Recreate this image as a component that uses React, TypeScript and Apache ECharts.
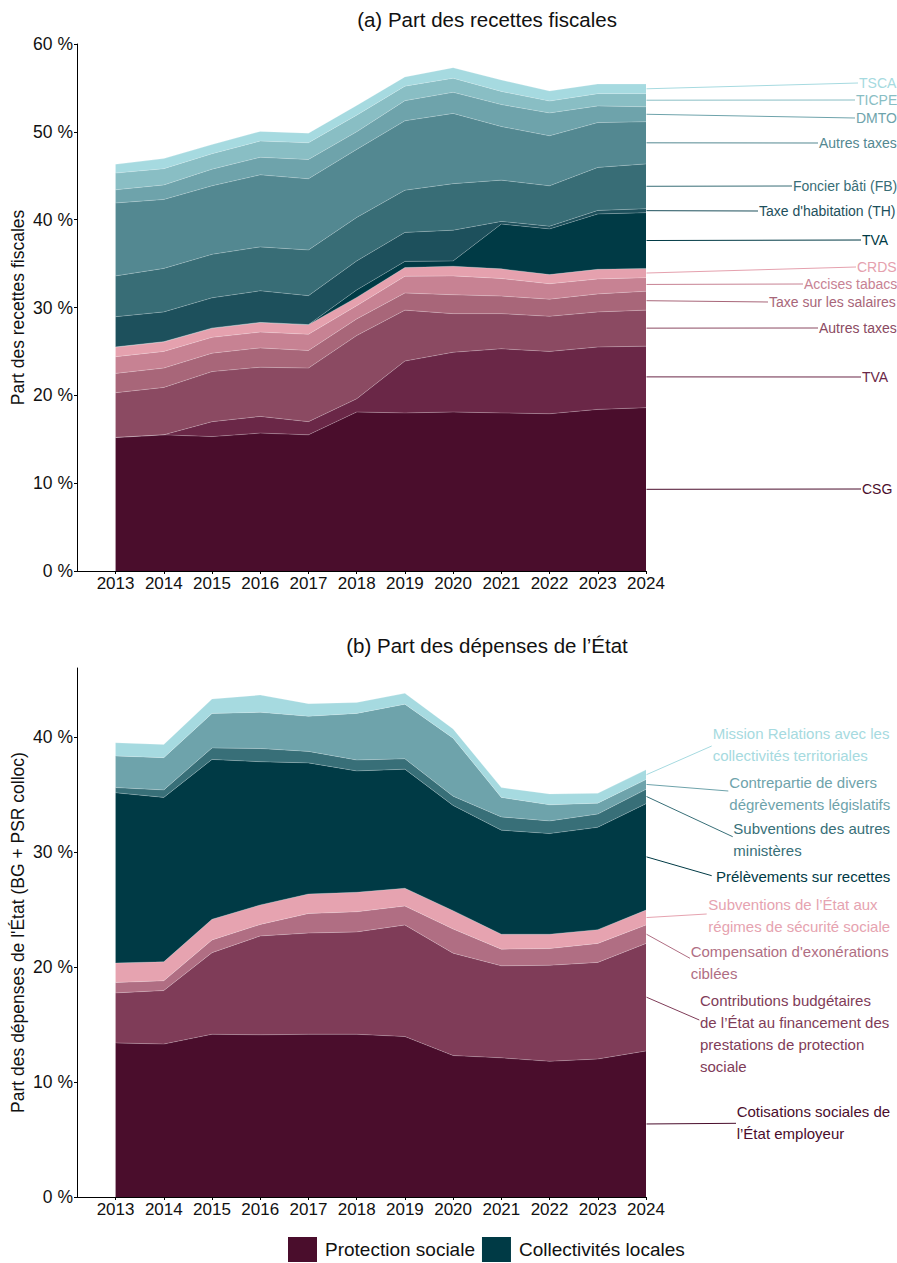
import React, { useEffect, useRef } from "react";
import * as echarts from "echarts";

const FONT = "'Liberation Sans', Arial, Helvetica, sans-serif";

const YEARS = [2013, 2014, 2015, 2016, 2017, 2018, 2019, 2020, 2021, 2022, 2023, 2024];

// ---- (a) Part des recettes fiscales (%), stacked bottom -> top
// Protection sociale
const CSG = [15.2, 15.5, 15.3, 15.7, 15.5, 18.1, 18.0, 18.1, 18.0, 17.9, 18.4, 18.6];
const TVA_PS = [0, 0, 1.7, 1.9, 1.5, 1.5, 5.9, 6.8, 7.3, 7.1, 7.1, 7.0];
const AUTRES_PS = [5.1, 5.4, 5.7, 5.6, 6.1, 7.2, 5.8, 4.4, 4.0, 4.0, 4.0, 4.1];
const TAXE_SALAIRES = [2.2, 2.2, 2.1, 2.2, 2.0, 1.9, 1.95, 2.15, 2.0, 1.95, 2.05, 2.15];
const ACCISES_TABACS = [1.9, 1.9, 1.8, 1.8, 1.85, 1.5, 1.9, 2.15, 2.0, 1.75, 1.7, 1.55];
const CRDS = [1.1, 1.1, 1.05, 1.1, 1.1, 0.95, 1.0, 1.1, 1.1, 1.05, 1.1, 1.05];
// Collectivités locales
const TVA_CL = [0, 0, 0, 0, 0, 0.85, 0.7, 0.6, 5.1, 5.2, 6.3, 6.35];
const TH = [3.45, 3.4, 3.45, 3.6, 3.3, 3.3, 3.3, 3.5, 0.3, 0.3, 0.4, 0.45];
const FB = [4.65, 4.95, 4.95, 5.0, 5.2, 4.95, 4.8, 5.3, 4.7, 4.6, 4.9, 5.1];
const AUTRES_CL = [8.3, 7.85, 7.8, 8.2, 8.1, 7.75, 7.9, 8.0, 6.1, 5.7, 5.1, 4.8];
const DMTO = [1.5, 1.65, 1.9, 2.0, 2.2, 2.0, 2.3, 2.4, 2.5, 2.6, 1.9, 1.7];
const TICPE = [1.9, 1.85, 1.75, 1.85, 1.9, 1.9, 1.65, 1.6, 1.5, 1.35, 1.4, 1.5];
const TSCA = [1.0, 1.15, 1.05, 1.1, 1.1, 1.1, 1.05, 1.2, 1.3, 1.15, 1.1, 1.1];

// ---- (b) Part des dépenses de l'État (%), stacked bottom -> top
const COTISATIONS = [13.4, 13.3, 14.15, 14.1, 14.15, 14.15, 13.95, 12.3, 12.1, 11.8, 12.0, 12.7];
const CONTRIBUTIONS = [4.35, 4.65, 7.1, 8.6, 8.8, 8.9, 9.7, 8.9, 8.0, 8.35, 8.4, 9.35];
const COMPENSATION = [0.9, 0.85, 1.1, 1.0, 1.7, 1.75, 1.65, 2.1, 1.45, 1.45, 1.65, 1.6];
const SUBV_SECU = [1.7, 1.65, 1.8, 1.7, 1.7, 1.7, 1.55, 1.6, 1.3, 1.25, 1.2, 1.3];
const PSR = [14.8, 14.3, 13.9, 12.45, 11.4, 10.55, 10.35, 9.15, 9.05, 8.75, 8.9, 9.25];
const SUBV_MINISTERES = [0.45, 0.65, 1.0, 1.15, 1.0, 0.95, 0.9, 0.8, 1.15, 1.1, 1.15, 1.25];
const CONTREPARTIE = [2.75, 2.8, 3.0, 3.15, 3.05, 4.05, 4.75, 5.05, 1.7, 1.4, 0.95, 0.85];
const MISSION_RCT = [1.15, 1.15, 1.25, 1.5, 1.1, 0.95, 0.95, 0.8, 0.85, 0.95, 0.85, 0.85];

const TOP_TICKS = [0, 10, 20, 30, 40, 50, 60];
const BOTTOM_TICKS = [0, 10, 20, 30, 40];

const LEGEND_NAMES = ["Protection sociale", "Collectivités locales"];
const LEGEND_COLORS = ["#4a0d2c", "#003a45"];

const TOP_SERIES = [
  { name: "CSG", data: CSG, color: "#4a0d2c" },
  { name: "TVA", data: TVA_PS, color: "#6a2747" },
  { name: "Autres taxes", data: AUTRES_PS, color: "#8b4a62" },
  { name: "Taxe sur les salaires", data: TAXE_SALAIRES, color: "#a86679" },
  { name: "Accises tabacs", data: ACCISES_TABACS, color: "#c78293" },
  { name: "CRDS", data: CRDS, color: "#e5a1ae" },
  { name: "TVA", data: TVA_CL, color: "#003a45" },
  { name: "Taxe d'habitation (TH)", data: TH, color: "#1d505c" },
  { name: "Foncier bâti (FB)", data: FB, color: "#386d76" },
  { name: "Autres taxes", data: AUTRES_CL, color: "#538891" },
  { name: "DMTO", data: DMTO, color: "#6ea3ab" },
  { name: "TICPE", data: TICPE, color: "#89bec4" },
  { name: "TSCA", data: TSCA, color: "#a6dae0" },
];

const BOTTOM_SERIES = [
  { name: "Cotisations sociales de\nl’État employeur", data: COTISATIONS, color: "#4a0d2c" },
  {
    name: "Contributions budgétaires\nde l’État au financement des\nprestations de protection\nsociale",
    data: CONTRIBUTIONS,
    color: "#7f3c58",
  },
  { name: "Compensation d'exonérations\nciblées", data: COMPENSATION, color: "#b06e83" },
  { name: "Subventions de l’État aux\nrégimes de sécurité sociale", data: SUBV_SECU, color: "#e6a3b0" },
  { name: "Prélèvements sur recettes", data: PSR, color: "#003a45" },
  { name: "Subventions des autres\nministères", data: SUBV_MINISTERES, color: "#386f78" },
  { name: "Contrepartie de divers\ndégrèvements législatifs", data: CONTREPARTIE, color: "#6ea3ab" },
  { name: "Mission Relations avec les\ncollectivités territoriales", data: MISSION_RCT, color: "#a6dae0" },
];

// Label layout (pixels): text start x, text (first line) centre y, guide line end x/y
const TOP_LABEL_LAYOUT = [
  [862, 489],
  [862, 377],
  [819, 328],
  [769, 302],
  [804, 284],
  [857, 267],
  [862, 240],
  [759, 211],
  [793, 186],
  [819, 143],
  [856, 118],
  [856, 100],
  [859, 83],
];
const BOTTOM_LABEL_LAYOUT = [
  [736.7, 1111.7, 736, 1123.3],
  [700, 1000, 699.3, 1020],
  [690.7, 951.7, 690, 958.3],
  [708.3, 904, 706.7, 914],
  [716, 876.7, 711.7, 875.7],
  [733.3, 828.3, 732.7, 836.7],
  [729.3, 782.3, 728.3, 791],
  [712.7, 733.3, 711.7, 746],
];

function makeSeries(list: any[], stack: string, gridIndex: number) {
  return list.map((s) => ({
    type: "line",
    name: s.name,
    stack,
    xAxisIndex: gridIndex,
    yAxisIndex: gridIndex,
    // value first so that the stacked dimension is the y (value) one
    data: YEARS.map((y, i) => [s.data[i], y]),
    encode: { x: 1, y: 0 },
    symbol: "none",
    showSymbol: false,
    silent: true,
    emphasis: { disabled: true },
    itemStyle: { color: s.color },
    lineStyle: { width: 0.6, color: "rgba(255,255,255,0.35)" },
    areaStyle: { color: s.color, opacity: 1 },
  }));
}

function xAxis(gridIndex: number) {
  return {
    type: "value",
    gridIndex,
    min: 2012.2,
    max: 2024,
    splitLine: { show: false },
    axisLine: { show: true, onZero: false, lineStyle: { color: "#000", width: 1 } },
    axisTick: { show: true, customValues: YEARS, length: 3, lineStyle: { color: "#000" } },
    axisLabel: {
      customValues: YEARS,
      formatter: (v: number) => String(v),
      color: "#111",
      fontSize: 17,
      margin: 4,
      fontFamily: FONT,
    },
  };
}

function yAxis(gridIndex: number, max: number, ticks: number[], name: string) {
  return {
    type: "value",
    gridIndex,
    min: 0,
    max,
    splitLine: { show: false },
    axisLine: { show: true, lineStyle: { color: "#000", width: 1 } },
    axisTick: { show: true, customValues: ticks, length: 3, lineStyle: { color: "#000" } },
    axisLabel: {
      customValues: ticks,
      formatter: (v: number) => `${v} %`,
      color: "#111",
      fontSize: 17.5,
      margin: 4,
      fontFamily: FONT,
    },
    name,
    nameLocation: "middle",
    nameGap: 50,
    nameMoveOverlap: false,
    nameTextStyle: { fontSize: 17.5, color: "#111", fontFamily: FONT },
  };
}

export default function App() {
  const ref = useRef<HTMLDivElement>(null);

  useEffect(() => {
    document.body.style.margin = "0";
    const chart = echarts.init(ref.current!, null, { renderer: "svg" });

    const option: any = {
      animation: false,
      textStyle: { fontFamily: FONT },
      title: [
        {
          text: "(a) Part des recettes fiscales",
          left: 487,
          top: 9,
          textAlign: "center",
          padding: 0,
          textStyle: { fontSize: 20.5, fontWeight: "normal", color: "#111", fontFamily: FONT },
        },
        {
          text: "(b) Part des dépenses de l’État",
          left: 487,
          top: 635,
          textAlign: "center",
          padding: 0,
          textStyle: { fontSize: 20.5, fontWeight: "normal", color: "#111", fontFamily: FONT },
        },
      ],
      grid: [
        { left: 77, right: 251, top: 44, height: 527, containLabel: false, outerBoundsMode: "none" },
        { left: 77, right: 251, top: 668, height: 529, containLabel: false, outerBoundsMode: "none" },
      ],
      xAxis: [xAxis(0), xAxis(1)],
      yAxis: [
        yAxis(0, 60, TOP_TICKS, "Part des recettes fiscales"),
        yAxis(1, 46, BOTTOM_TICKS, "Part des dépenses de l'État (BG + PSR colloc)"),
      ],
      legend: {
        data: LEGEND_NAMES.map((n) => ({ name: n, icon: "rect" })),
        left: 288,
        top: 1237,
        padding: 0,
        itemWidth: 29,
        itemHeight: 25,
        itemGap: 7,
        selectedMode: false,
        textStyle: { fontSize: 19, color: "#111", fontFamily: FONT, padding: [0, 0, 0, 3] },
      },
      series: [
        ...makeSeries(TOP_SERIES, "top", 0),
        ...makeSeries(BOTTOM_SERIES, "bottom", 1),
        ...LEGEND_NAMES.map((n, i) => ({
          type: "line",
          name: n,
          xAxisIndex: 0,
          yAxisIndex: 0,
          data: [],
          itemStyle: { color: LEGEND_COLORS[i] },
          lineStyle: { color: LEGEND_COLORS[i] },
        })),
      ],
    };
    chart.setOption(option);

    const graphics: any[] = [];
    const lastIdx = YEARS.length - 1;
    const lastYear = YEARS[lastIdx];

    let cum = 0;
    TOP_SERIES.forEach((s, i) => {
      const v = s.data[lastIdx];
      const mid = cum + v / 2;
      cum += v;
      const p = chart.convertToPixel({ gridIndex: 0 }, [lastYear, mid]) as number[];
      const [tx, ty] = TOP_LABEL_LAYOUT[i];
      graphics.push({
        type: "line",
        silent: true,
        shape: { x1: p[0] + 0.5, y1: p[1], x2: tx - 1, y2: ty },
        style: { stroke: s.color, lineWidth: 1 },
      });
      graphics.push({
        type: "text",
        silent: true,
        x: tx,
        y: ty,
        style: {
          text: s.name,
          fill: s.color,
          fontSize: 14,
          fontFamily: FONT,
          textAlign: "left",
          textVerticalAlign: "middle",
        },
      });
    });

    cum = 0;
    BOTTOM_SERIES.forEach((s, i) => {
      const v = s.data[lastIdx];
      const mid = cum + v / 2;
      cum += v;
      const p = chart.convertToPixel({ gridIndex: 1 }, [lastYear, mid]) as number[];
      const [tx, ty, lx, ly] = BOTTOM_LABEL_LAYOUT[i];
      graphics.push({
        type: "line",
        silent: true,
        shape: { x1: p[0] + 0.5, y1: p[1], x2: lx, y2: ly },
        style: { stroke: s.color, lineWidth: 1 },
      });
      graphics.push({
        type: "text",
        silent: true,
        x: tx,
        y: ty - 11,
        style: {
          text: s.name,
          fill: s.color,
          fontSize: 15,
          lineHeight: 22,
          fontFamily: FONT,
          textAlign: "left",
          textVerticalAlign: "top",
        },
      });
    });

    chart.setOption({ graphic: graphics });

    return () => chart.dispose();
  }, []);

  return (
    <div
      ref={ref}
      style={{ position: "absolute", left: 0, top: 0, width: 897, height: 1263 }}
    />
  );
}
